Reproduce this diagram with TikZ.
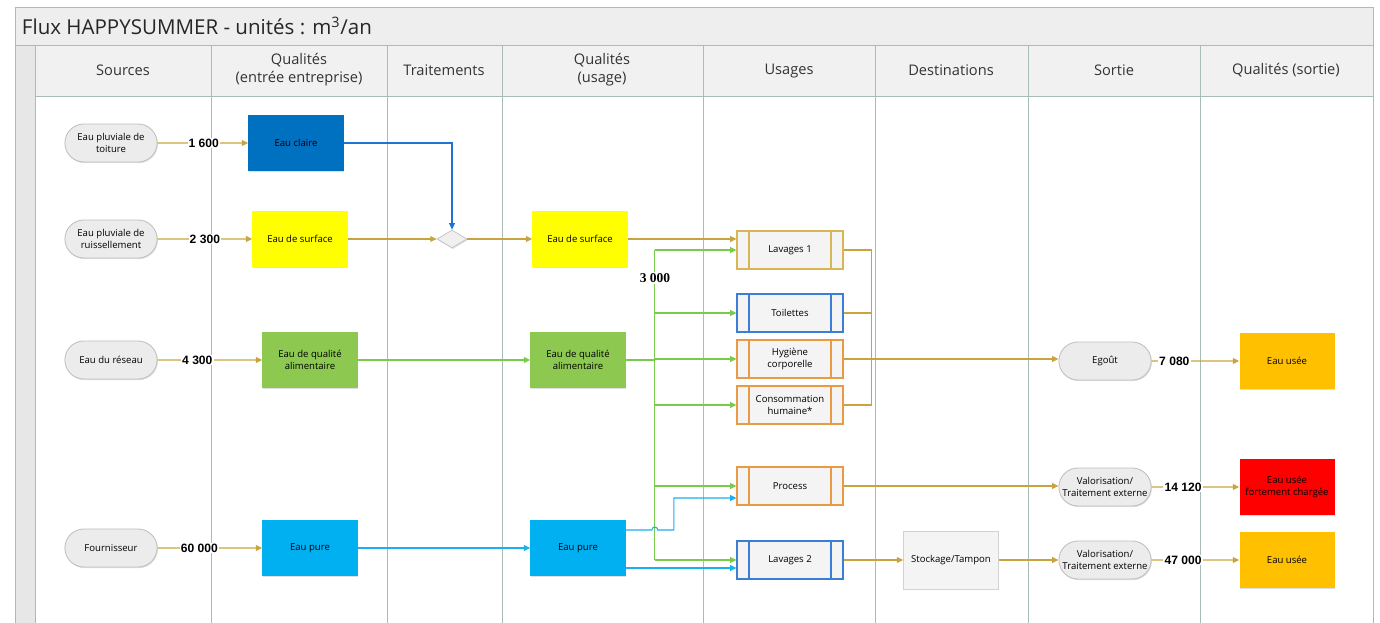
\documentclass[tikz,border=0pt]{standalone}
\usepackage{fontspec}
\setmainfont{Open Sans}
\newfontfamily\numfont{Liberation Sans}
\newfontfamily\serfont{Liberation Serif}
\usepackage{tikz}
\usetikzlibrary{arrows.meta,positioning,calc,shapes.geometric,shapes.misc,shadows}
\usepackage{xcolor}
\definecolor{gridline}{HTML}{A9BDB7}
\definecolor{bandfill}{HTML}{EEEEEE}
\definecolor{headfill}{HTML}{F1F1F1}
\definecolor{sidefill}{HTML}{E7E7E7}
\definecolor{gold}{HTML}{C9A43E}
\definecolor{leaf}{HTML}{7ACB4C}
\definecolor{navy}{HTML}{1E74D2}
\definecolor{sky}{HTML}{1AAFEF}
\definecolor{claire}{HTML}{0070C0}
\definecolor{jaune}{HTML}{FFFF00}
\definecolor{alim}{HTML}{8DC951}
\definecolor{pure}{HTML}{00B0F0}
\definecolor{usee}{HTML}{FFC000}
\definecolor{rouge}{HTML}{FF0000}
\definecolor{pillfill}{HTML}{ECECEC}
\definecolor{bordgold}{HTML}{D8B656}
\definecolor{bordblue}{HTML}{3C7DD6}
\definecolor{bordorange}{HTML}{E99A45}
\newcommand\boxfont{\fontsize{6.8}{8.2}\selectfont}

\tikzset{
  grid/.style={draw=gridline,line width=0.7pt},
  head/.style={font=\fontsize{10.4}{13}\selectfont,align=center,text=black!80},
  soft/.style={drop shadow={opacity=.25,shadow xshift=.6pt,shadow yshift=-.8pt}},
  pill/.style={rounded rectangle,fill=pillfill,draw=gray!50,line width=0.6pt,
    minimum width=2.375cm,minimum height=0.95cm,inner sep=1pt,align=center,
    font=\boxfont,soft},
  qbox/.style={rectangle,fill=#1,minimum width=2.375cm,minimum height=1.4cm,
    inner sep=1pt,align=center,font=\boxfont,soft},
  usebox/.style={rectangle,fill=gray!9,draw=#1,line width=0.8pt,
    minimum width=2.65cm,minimum height=0.95cm,inner sep=1pt,align=center,font=\boxfont,soft,
    path picture={\draw[#1,line width=0.8pt]
      ([xshift=0.3cm]path picture bounding box.north west) -- ([xshift=0.3cm]path picture bounding box.south west)
      ([xshift=-0.3cm]path picture bounding box.north east) -- ([xshift=-0.3cm]path picture bounding box.south east);}},
  num/.style={font=\numfont\bfseries\fontsize{8.6}{9.6}\selectfont,fill=white,inner sep=0.8pt},
  flow/.style={draw=#1,line width=0.75pt,-{Triangle[length=4.5pt,width=4.2pt]}},
  line/.style={draw=#1,line width=0.75pt}
}

\begin{document}
\begin{tikzpicture}[x=0.025cm,y=-0.025cm]
  \useasboundingbox (0,0) rectangle (1380,623);
  % cadre et couloirs
  \fill[bandfill] (15,7) rectangle (1373,45);
  \fill[headfill] (35,45) rectangle (1373,96);
  \fill[sidefill] (15,45) rectangle (35,623);
  \draw[grid] (15,623) -- (15,7) -- (1373,7) -- (1373,623);
  \draw[grid] (15,45) -- (1373,45);
  \draw[grid] (35,96) -- (1373,96);
  \foreach \cx in {35,211,387,502,703,875,1028,1200}
    \draw[grid] (\cx,45) -- (\cx,623);
  \node[anchor=west,font=\fontsize{14.6}{17}\selectfont,text=black!85] (title) at (17,26)
    {Flux HAPPYSUMMER - unités : m\textsuperscript{3}/an};
  \node[head] (h-src) at (123,70) {Sources};
  \node[head] (h-qe) at (299,70) {Qualités\\(entrée entreprise)};
  \node[head] (h-trt) at (444,70) {Traitements};
  \node[head] (h-qu) at (602,70) {Qualités\\(usage)};
  \node[head] (h-us) at (789,71) {Usages};
  \node[head] (h-dest) at (951,70) {Destinations};
  \node[head] (h-so) at (1114,70) {Sortie};
  \node[head] (h-qs) at (1286,70) {Qualités (sortie)};

  % sources
  \node[pill] (src-toit) at (111,143) {Eau pluviale de\\toiture};
  \node[pill] (src-ruis) at (111,239) {Eau pluviale de\\ruissellement};
  \node[pill] (src-res) at (111,360) {Eau du réseau};
  \node[pill] (src-four) at (111,548) {Fournisseur};

  % qualites entree
  \node[qbox=claire] (qe-claire) at (296,143) {Eau claire};
  \node[qbox=jaune] (qe-surf) at (300,239) {Eau de surface};
  \node[qbox=alim] (qe-alim) at (310,360) {Eau de qualité\\alimentaire};
  \node[qbox=pure] (qe-pure) at (310,548) {Eau pure};

  % traitement
  \node[diamond,fill=gray!12,draw=gray!45,line width=0.6pt,minimum width=0.75cm,
    minimum height=0.45cm,inner sep=0pt,soft] (trt) at (452,239) {};

  % qualites usage
  \node[qbox=jaune] (qu-surf) at (580,239) {Eau de surface};
  \node[qbox=alim] (qu-alim) at (578,360) {Eau de qualité\\alimentaire};
  \node[qbox=pure] (qu-pure) at (578,548) {Eau pure};

  % usages
  \node[usebox=bordgold] (us-lav1) at (790,250) {Lavages 1};
  \node[usebox=bordblue] (us-toil) at (790,313) {Toilettes};
  \node[usebox=bordorange] (us-hyg) at (790,359) {Hygiène\\corporelle};
  \node[usebox=bordorange] (us-conso) at (790,405) {Consommation\\humaine*};
  \node[usebox=bordorange] (us-proc) at (790,486) {Process};
  \node[usebox=bordblue] (us-lav2) at (790,560) {Lavages 2};

  % destinations, sorties
  \node[rectangle,fill=gray!9,draw=gray!35,line width=0.5pt,minimum width=2.375cm,
    minimum height=1.45cm,font=\boxfont,soft] (dest-stock) at (951,560) {Stockage/Tampon};
  \node[pill] (so-egout) at (1105,361) {Egoût};
  \node[pill] (so-valo1) at (1105,487) {Valorisation/\\Traitement externe};
  \node[pill] (so-valo2) at (1105,560) {Valorisation/\\Traitement externe};
  \node[qbox=usee] (qs-usee1) at (1287,361) {Eau usée};
  \node[qbox=rouge] (qs-charge) at (1287,487) {Eau usée\\fortement chargée};
  \node[qbox=usee] (qs-usee2) at (1287,560) {Eau usée};

  % flux d'entree
  \draw[flow=gold] (src-toit) -- node[num,pos=0.51] {1 600} (qe-claire);
  \draw[flow=gold] (src-ruis) -- node[num,pos=0.5] {2 300} (qe-surf);
  \draw[flow=gold] (src-res) -- node[num,pos=0.38] {4 300} (qe-alim);
  \draw[flow=gold] (src-four) -- node[num,pos=0.4] {60 000} (qe-pure);
  \draw[flow=navy] (qe-claire.east) -| (trt.north);
  \draw[flow=gold] (qe-surf) -- (trt);
  \draw[flow=gold] (trt) -- (qu-surf);
  \draw[flow=leaf] (qe-alim) -- (qu-alim);
  \draw[flow=sky] (qe-pure) -- (qu-pure);

  % distribution vers les usages
  \draw[flow=gold] (qu-surf) -- (qu-surf -| us-lav1.west);
  \coordinate[right=0.725cm of qu-alim.east] (gj);
  \draw[line=leaf] (qu-alim.east) -- (gj);
  \draw[line=leaf] (gj |- us-lav1) -- (gj |- us-lav2);
  \foreach \u in {us-lav1,us-toil,us-hyg,us-conso,us-proc,us-lav2}
    \draw[flow=leaf] (gj |- \u) -- (\u.west);
  \node[num,font=\serfont\bfseries\fontsize{9.6}{10.6}\selectfont] (n-3000) at (655,278) {3 000};
  \coordinate (pj) at ([yshift=0.45cm]qu-pure.east);
  \draw[flow=sky] (pj) -- ($(gj |- pj)+(-3,0)$) arc[start angle=180,end angle=0,radius=0.075cm]
    -- ($(gj |- pj)+(19,0)$) |- ([yshift=-0.3cm]us-proc.west);
  \coordinate (pb) at ([yshift=-0.5cm]qu-pure.east);
  \draw[flow=sky] (pb) -- (pb -| us-lav2.west);

  % collecte et sorties
  \coordinate[right=0.7cm of us-hyg.east] (gk);
  \foreach \u in {us-lav1,us-toil,us-hyg,us-conso}
    \draw[line=gold] (\u.east) -- (gk |- \u);
  \draw[line=gold] (gk |- us-lav1) -- (gk |- us-conso);
  \draw[flow=gold] (gk) -- (gk -| so-egout.west);
  \draw[flow=gold] (us-proc.east) -- (us-proc.east -| so-valo1.west);
  \draw[flow=gold] (us-lav2) -- (dest-stock);
  \draw[flow=gold] (dest-stock) -- (so-valo2);
  \draw[flow=gold] (so-egout) -- node[num,pos=0.26] {7 080} (qs-usee1);
  \draw[flow=gold] (so-valo1) -- node[num,pos=0.36] {14 120} (qs-charge);
  \draw[flow=gold] (so-valo2) -- node[num,pos=0.36] {47 000} (qs-usee2);
\end{tikzpicture}
\end{document}
